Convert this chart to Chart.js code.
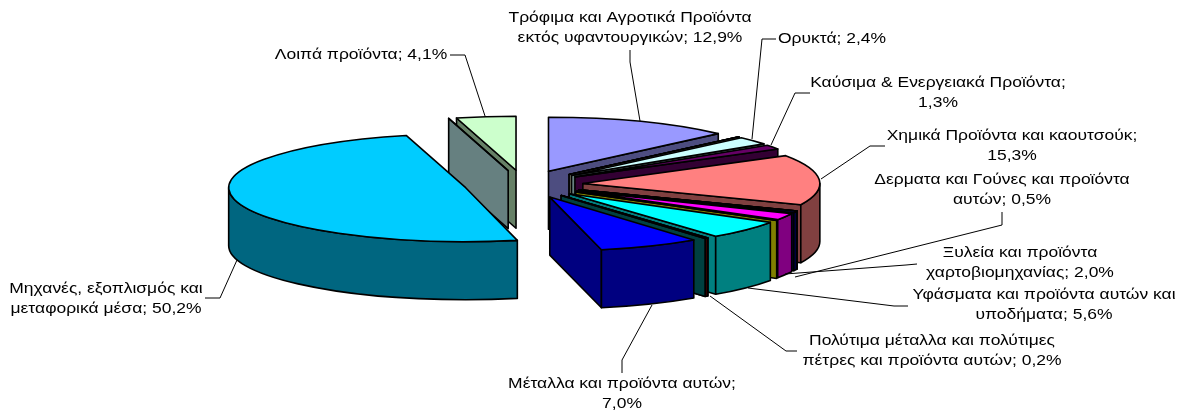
<!DOCTYPE html>
<html><head><meta charset="utf-8">
<style>html,body{margin:0;padding:0;background:#fff}#w{width:1184px;height:411px}</style>
<script src="https://cdn.jsdelivr.net/npm/chart.js@4"></script>
</head><body><div id="w"><canvas id="c"></canvas></div>
<script>
const categories = ['Τρόφιμα και Αγροτικά Προϊόντα εκτός υφαντουργικών','','','Ορυκτά','Καύσιμα & Ενεργειακά Προϊόντα','Χημικά Προϊόντα και καουτσούκ','','','Δερματα και Γούνες και προϊόντα αυτών','Ξυλεία και προϊόντα χαρτοβιομηχανίας','','Υφάσματα και προϊόντα αυτών και υποδήματα','','Πολύτιμα μέταλλα και πολύτιμες πέτρες και προϊόντα αυτών','','Μέταλλα και προϊόντα αυτών','Μηχανές, εξοπλισμός και μεταφορικά μέσα','','Λοιπά προϊόντα'];
const shares = [12.9,0,0,2.4,1.3,15.3,0,0,0.5,2.0,0,5.6,0,0.2,0,7.0,50.2,0,4.1];
const explosion = [63,63,63,62,61,59,60,60,60,60,61,61,61,61,61,61,60,63,63];
const topColours = ['#9999FF','#993366','#FFFFCC','#CCFFFF','#660066','#FF8080','#0066CC','#CCCCFF','#000080','#FF00FF','#FFFF00','#00FFFF','#800080','#800000','#008080','#0000FF','#00CCFF','#CCFFFF','#CCFFCC'];
const wallColours = ['#4D4D80','#4D1A33','#808066','#668080','#330033','#804040','#003366','#666680','#000040','#800080','#808000','#008080','#400040','#400000','#004040','#000080','#006680','#668080','#668066'];

const labelBlocks = [
  {lines:['Τρόφιμα και Αγροτικά Προϊόντα','εκτός υφαντουργικών; 12,9%'],x:630,y:18},
  {lines:['Ορυκτά; 2,4%'],x:832,y:39},
  {lines:['Καύσιμα & Ενεργειακά Προϊόντα;','1,3%'],x:938,y:83},
  {lines:['Χημικά Προϊόντα και καουτσούκ;','15,3%'],x:1012,y:136},
  {lines:['Δερματα και Γούνες και προϊόντα','αυτών; 0,5%'],x:1002,y:180},
  {lines:['Ξυλεία και προϊόντα','χαρτοβιομηχανίας; 2,0%'],x:1020,y:253},
  {lines:['Υφάσματα και προϊόντα αυτών και','υποδήματα; 5,6%'],x:1044,y:295},
  {lines:['Πολύτιμα μέταλλα και πολύτιμες','πέτρες και προϊόντα αυτών; 0,2%'],x:932,y:341},
  {lines:['Μέταλλα και προϊόντα αυτών;','7,0%'],x:622,y:384},
  {lines:['Μηχανές, εξοπλισμός και','μεταφορικά μέσα; 50,2%'],x:106,y:289},
  {lines:['Λοιπά προϊόντα; 4,1%'],x:361,y:55}
];
const leaders = [
  [[630,50],[630,62],[640,121]],
  [[776,39],[762,39],[752,139]],
  [[810,93],[795,93],[771,145]],
  [[885,146],[870,146],[821,179]],
  [[1002,212],[1002,225],[795,277]],
  [[917,264],[906,265],[785,274]],
  [[908,306],[894,306],[748,288]],
  [[797,351],[786,351],[710,296]],
  [[622,373],[622,360],[652,305]],
  [[205,298],[220,298],[237,260]],
  [[450,55],[465,55],[485,116]]
];

const SQUASH = 54/237, DEPTH = 58, LW = 1.6, STRETCH = 1.165;

const pie3d = {
  id:'pie3d',
  beforeDatasetsDraw(chart){
    const ctx = chart.ctx;
    const arcs = chart.getDatasetMeta(0).data.map((a,i)=>({a,i,mid:(a.startAngle+a.endAngle)/2}));
    const clock = m => { let d = (m+Math.PI/2)%(2*Math.PI); if(d<0) d+=2*Math.PI; return Math.min(d,2*Math.PI-d); };
    arcs.sort((p,q)=>clock(p.mid)-clock(q.mid));
    ctx.save();
    ctx.lineWidth = LW; ctx.lineJoin='round'; ctx.strokeStyle='#000';
    for(const {a,i,mid} of arcs){
      const R=a.outerRadius, b=R*SQUASH;
      const cx=a.x+Math.cos(mid)*explosion[i], cy=a.y+Math.sin(mid)*explosion[i]*SQUASH;
      const s=a.startAngle, e=a.endAngle;
      const pt=(t)=>[cx+R*Math.cos(t),cy+b*Math.sin(t)];
      const paint=(col)=>{ctx.fillStyle=col;ctx.fill();ctx.stroke();};
      const wall=(t)=>{
        const p=pt(t);
        ctx.beginPath();ctx.moveTo(cx,cy);ctx.lineTo(p[0],p[1]);ctx.lineTo(p[0],p[1]+DEPTH);ctx.lineTo(cx,cy+DEPTH);ctx.closePath();
        paint(wallColours[i]);
      };
      // radial faces turned towards the viewer
      if(Math.cos(s)<0) wall(s);
      if(Math.cos(e)>=0 && (e>s || Math.cos(s)>=0)) wall(e);
      // outer wall: lower half of the ellipse
      const f0=Math.max(s,0), f1=Math.min(e,Math.PI);
      if(f1>f0){
        ctx.beginPath();
        ctx.ellipse(cx,cy,R,b,0,f0,f1);
        ctx.ellipse(cx,cy+DEPTH,R,b,0,f1,f0,true);
        ctx.closePath();
        paint(wallColours[i]);
      }
      // top face
      ctx.beginPath();ctx.moveTo(cx,cy);
      ctx.ellipse(cx,cy,R,b,0,s,e);
      ctx.closePath();
      paint(topColours[i]);
    }
    ctx.restore();
    return false;
  },
  afterDraw(chart){
    const ctx=chart.ctx;
    ctx.save();
    ctx.strokeStyle='#000';ctx.lineWidth=1;
    for(const l of leaders){ctx.beginPath();l.forEach((p,k)=>k?ctx.lineTo(p[0],p[1]):ctx.moveTo(p[0],p[1]));ctx.stroke();}
    ctx.fillStyle='#000';ctx.font='15px "Liberation Sans"';ctx.textAlign='center';ctx.textBaseline='middle';
    for(const b of labelBlocks){b.lines.forEach((t,k)=>{
      ctx.save();ctx.translate(b.x,b.y+k*19.5);ctx.scale(STRETCH,1);ctx.fillText(t,0,0);ctx.restore();
    });}
    ctx.restore();
  }
};

new Chart(document.getElementById('c'),{
  type:'pie',
  data:{labels:categories,datasets:[{data:shares,backgroundColor:topColours,borderWidth:0}]},
  options:{
    responsive:true,maintainAspectRatio:false,animation:false,
    radius:237,
    layout:{padding:{right:136,bottom:42}},
    plugins:{legend:{display:false},tooltip:{enabled:false},title:{display:false}}
  },
  plugins:[pie3d]
});
</script></body></html>
